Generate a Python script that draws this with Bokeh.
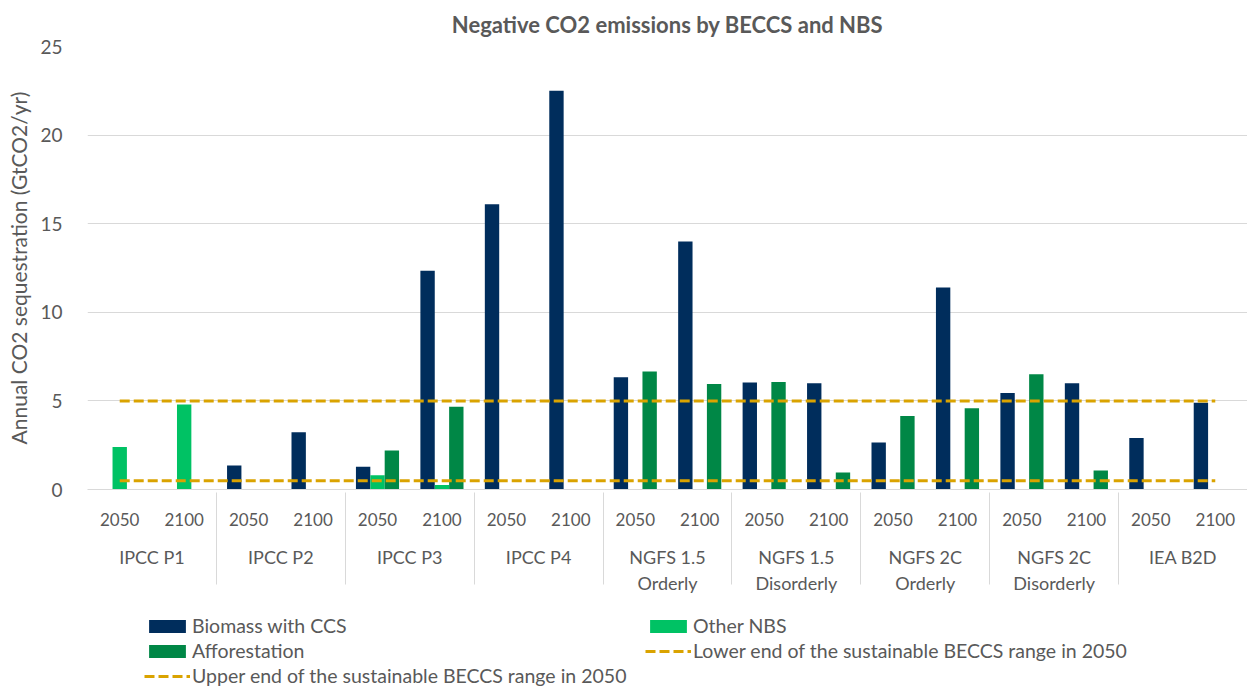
from bokeh.plotting import figure
from bokeh.models import FactorRange, Legend, LegendItem, ColumnDataSource, FixedTicker
from bokeh.layouts import column
from bokeh.transform import dodge
from bokeh.embed import file_html
from bokeh.resources import INLINE

scenarios = ["IPCC P1", "IPCC P2", "IPCC P3", "IPCC P4", "NGFS 1.5\nOrderly",
             "NGFS 1.5\nDisorderly", "NGFS 2C\nOrderly", "NGFS 2C\nDisorderly", "IEA B2D"]
years = ["2050", "2100"]

biomass_ccs = [0.0, 0.0, 1.35, 3.23, 1.28, 12.35, 16.1, 22.5, 6.34, 14.0,
               6.04, 6.0, 2.65, 11.4, 5.44, 6.0, 2.91, 4.9]
other_nbs = [2.4, 4.8, 0.0, 0.0, 0.8, 0.25, 0.0, 0.0, 0.0, 0.0,
             0.0, 0.0, 0.0, 0.0, 0.0, 0.0, 0.0, 0.0]
afforestation = [0.0, 0.0, 0.0, 0.0, 2.2, 4.67, 0.0, 0.0, 6.66, 5.95,
                 6.06, 0.96, 4.15, 4.58, 6.51, 1.07, 0.0, 0.0]
lower_end = [0.5] * 18
upper_end = [5.0] * 18
y_ticks = [0, 5, 10, 15, 20, 25]

factors = [(s, y) for s in scenarios for y in years]
src = ColumnDataSource(dict(x=factors, beccs=biomass_ccs, nbs=other_nbs, aff=afforestation,
                            lo=lower_end, up=upper_end))

FONT = "Lato"
GREY = "#595959"
C_BECCS = "#002D5C"
C_NBS = "#00C264"
C_AFF = "#008746"
C_LINE = "#DAA300"
DASH = "10 4"
W = 0.223


def draw_series(fig):
    rb = fig.vbar(x=dodge("x", -W, range=fig.x_range), top="beccs", width=W, source=src,
                  fill_color=C_BECCS, line_color=None)
    rn = fig.vbar(x=dodge("x", 0, range=fig.x_range), top="nbs", width=W, source=src,
                  fill_color=C_NBS, line_color=None)
    ra = fig.vbar(x=dodge("x", W, range=fig.x_range), top="aff", width=W, source=src,
                  fill_color=C_AFF, line_color=None)
    rl = fig.line(x="x", y="lo", source=src, line_color=C_LINE, line_width=3, line_dash=DASH)
    ru = fig.line(x="x", y="up", source=src, line_color=C_LINE, line_width=3, line_dash=DASH)
    return rb, rn, ra, rl, ru


p = figure(x_range=FactorRange(*factors, group_padding=0, factor_padding=0, range_padding=0),
           y_range=(0, 25), width=1247, height=604, output_backend="svg",
           toolbar_location=None, min_border_left=87, min_border_right=0, min_border_top=45,
           min_border_bottom=115)
draw_series(p)

p.title.text = "Negative CO2 emissions by BECCS and NBS"
p.title.align = "center"
p.title.text_font = FONT
p.title.text_font_size = "22px"
p.title.text_font_style = "bold"
p.title.text_color = GREY
p.title.standoff = 17

p.outline_line_color = None
p.xgrid.grid_line_color = None
p.ygrid.grid_line_color = "#D9D9D9"
p.ygrid.grid_line_width = 1

p.yaxis.ticker = FixedTicker(ticks=y_ticks)
p.yaxis.axis_line_color = None
p.yaxis.major_tick_line_color = None
p.yaxis.minor_tick_line_color = None
p.yaxis.major_tick_out = 0
p.yaxis.major_tick_in = 0
p.yaxis.minor_tick_out = 0
p.yaxis.minor_tick_in = 0
p.yaxis.major_label_text_font = FONT
p.yaxis.major_label_text_font_size = "19px"
p.yaxis.major_label_text_color = GREY
p.yaxis.major_label_standoff = 25
p.yaxis.axis_label = "Annual CO2 sequestration (GtCO2/yr)"
p.yaxis.axis_label_text_font = FONT
p.yaxis.axis_label_text_font_size = "21px"
p.yaxis.axis_label_text_font_style = "normal"
p.yaxis.axis_label_text_color = GREY
p.yaxis.axis_label_standoff = 6

p.xaxis.axis_line_color = "#D9D9D9"
p.xaxis.major_tick_line_color = None
p.xaxis.minor_tick_line_color = None
p.xaxis.major_label_text_font = FONT
p.xaxis.major_label_text_font_size = "17px"
p.xaxis.major_label_text_color = GREY
p.xaxis.major_label_standoff = 17
p.xaxis.group_text_font = FONT
p.xaxis.group_text_font_size = "18px"
p.xaxis.group_text_font_style = "normal"
p.xaxis.group_text_color = GREY
p.xaxis.separator_line_color = "#D9D9D9"
p.xaxis.separator_line_width = 1

# legend strip below the chart: same series, drawn outside its visible y-range
lg = figure(x_range=FactorRange(*factors, group_padding=0, factor_padding=0, range_padding=0),
            y_range=(100, 101), width=1247, height=82, output_backend="svg",
            toolbar_location=None, min_border=0)
lg.axis.visible = False
lg.grid.visible = False
lg.outline_line_color = None
g1, g2, g3, g4, g5 = draw_series(lg)

legend = Legend(items=[
    LegendItem(label="Biomass with CCS", renderers=[g1]),
    LegendItem(label="Afforestation", renderers=[g3]),
    LegendItem(label="Upper end of the sustainable BECCS range in 2050", renderers=[g5]),
    LegendItem(label="Other NBS", renderers=[g2]),
    LegendItem(label="Lower end of the sustainable BECCS range in 2050", renderers=[g4]),
], orientation="vertical", nrows=3, location=(57, -1),
    label_text_font=FONT, label_text_font_size="19.5px", label_text_color=GREY,
    glyph_width=46, glyph_height=16, label_height=20, label_width=451, label_standoff=2,
    spacing=2, border_line_color=None, background_fill_alpha=0, padding=0, margin=0)
lg.add_layout(legend)

open("out.html", "w").write(file_html(column(p, lg, spacing=0), INLINE))
